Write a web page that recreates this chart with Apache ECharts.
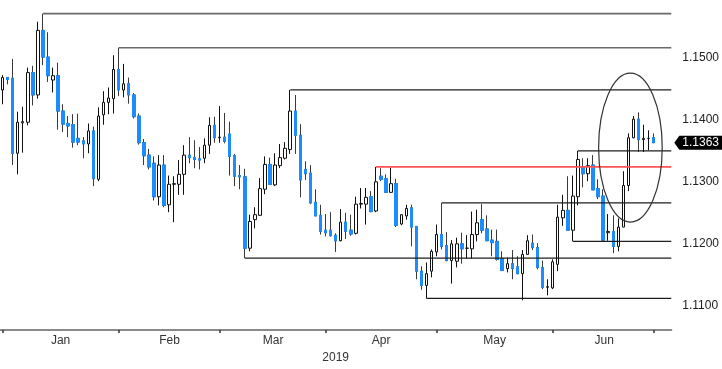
<!DOCTYPE html>
<html>
<head>
<meta charset="utf-8">
<script src="https://cdn.jsdelivr.net/npm/echarts@6/dist/echarts.min.js"></script>
<style>
html,body{margin:0;padding:0;background:#fff;}
#chart{width:722px;height:369px;}
</style>
</head>
<body>
<div id="chart"></div>
<script>
// Trading days (categories), incl. 3 empty days at the right end
const dates = [
'2018-12-31',
'2019-01-01','2019-01-02','2019-01-03','2019-01-04','2019-01-07','2019-01-08','2019-01-09','2019-01-10','2019-01-11','2019-01-14','2019-01-15','2019-01-16','2019-01-17','2019-01-18','2019-01-21','2019-01-22','2019-01-23','2019-01-24','2019-01-25','2019-01-28','2019-01-29','2019-01-30','2019-01-31',
'2019-02-01','2019-02-04','2019-02-05','2019-02-06','2019-02-07','2019-02-08','2019-02-11','2019-02-12','2019-02-13','2019-02-14','2019-02-15','2019-02-18','2019-02-19','2019-02-20','2019-02-21','2019-02-22','2019-02-25','2019-02-26','2019-02-27','2019-02-28',
'2019-03-01','2019-03-04','2019-03-05','2019-03-06','2019-03-07','2019-03-08','2019-03-11','2019-03-12','2019-03-13','2019-03-14','2019-03-15','2019-03-18','2019-03-19','2019-03-20','2019-03-21','2019-03-22','2019-03-25','2019-03-26','2019-03-27','2019-03-28','2019-03-29',
'2019-04-01','2019-04-02','2019-04-03','2019-04-04','2019-04-05','2019-04-08','2019-04-09','2019-04-10','2019-04-11','2019-04-12','2019-04-15','2019-04-16','2019-04-17','2019-04-18','2019-04-19','2019-04-22','2019-04-23','2019-04-24','2019-04-25','2019-04-26','2019-04-29','2019-04-30',
'2019-05-01','2019-05-02','2019-05-03','2019-05-06','2019-05-07','2019-05-08','2019-05-09','2019-05-10','2019-05-13','2019-05-14','2019-05-15','2019-05-16','2019-05-17','2019-05-20','2019-05-21','2019-05-22','2019-05-23','2019-05-24','2019-05-27','2019-05-28','2019-05-29','2019-05-30','2019-05-31',
'2019-06-03','2019-06-04','2019-06-05','2019-06-06','2019-06-07','2019-06-10','2019-06-11','2019-06-12','2019-06-13','2019-06-14','2019-06-17','2019-06-18','2019-06-19','2019-06-20','2019-06-21','2019-06-24','2019-06-25','2019-06-26','2019-06-27','2019-06-28',
'2019-07-01','2019-07-02','2019-07-03'
];

const opens = [
1.1448,
1.1468,1.1467,1.1346,1.1395,1.1396,1.1476,1.1440,1.1544,1.1501,1.1464,1.1471,1.1414,1.1394,1.1392,1.1370,1.1366,1.1361,1.1382,1.1304,1.1408,1.1428,1.1434,1.1481,
1.1448,1.1458,1.1440,1.1406,1.1363,1.1343,1.1330,1.1276,1.1327,1.1263,1.1296,1.1296,1.1312,1.1343,1.1339,1.1337,1.1338,1.1359,1.1391,1.1371,
1.1372,1.1377,1.1342,1.1310,1.1308,1.1193,1.1239,1.1246,1.1288,1.1328,1.1295,1.1326,1.1338,1.1352,1.1414,1.1375,1.1320,1.1314,1.1267,1.1246,1.1222,
1.1222,1.1214,1.1205,1.1235,1.1222,1.1217,1.1264,1.1264,1.1276,1.1253,1.1309,1.1305,1.1283,1.1297,1.1232,1.1245,1.1258,1.1228,1.1156,1.1133,1.1156,1.1187,
1.1215,1.1197,1.1173,1.1172,1.1200,1.1193,1.1192,1.1215,1.1239,1.1224,1.1206,1.1204,1.1176,1.1160,1.1168,1.1163,1.1152,1.1183,1.1201,1.1194,1.1162,1.1130,1.1129,
1.1167,1.1242,1.1254,1.1222,1.1276,1.1323,1.1313,1.1327,1.1289,1.1277,1.1218,1.1220,1.1196,1.1227,1.1294,1.1371,1.1401,1.1368,1.1370,1.1371
];
const highs = [
1.1472,
1.1469,1.1498,1.1413,1.1421,1.1484,1.1487,1.1558,1.1571,1.1541,1.1484,1.1492,1.1425,1.1406,1.1409,1.1410,1.1372,1.1394,1.1389,1.1420,1.1446,1.1452,1.1504,1.1516,
1.1490,1.1468,1.1443,1.1410,1.1369,1.1353,1.1341,1.1343,1.1343,1.1310,1.1309,1.1335,1.1359,1.1372,1.1367,1.1356,1.1370,1.1404,1.1405,1.1422,
1.1411,1.1397,1.1345,1.1327,1.1321,1.1247,1.1259,1.1306,1.1341,1.1339,1.1346,1.1361,1.1364,1.1448,1.1440,1.1393,1.1333,1.1327,1.1288,1.1263,1.1248,
1.1251,1.1217,1.1256,1.1250,1.1247,1.1276,1.1290,1.1290,1.1285,1.1324,1.1322,1.1312,1.1323,1.1305,1.1248,1.1263,1.1263,1.1229,1.1164,1.1170,1.1191,1.1231,
1.1266,1.1219,1.1206,1.1210,1.1218,1.1214,1.1252,1.1255,1.1264,1.1246,1.1223,1.1223,1.1188,1.1178,1.1190,1.1180,1.1190,1.1214,1.1215,1.1201,1.1173,1.1143,1.1175,
1.1263,1.1279,1.1309,1.1310,1.1350,1.1338,1.1338,1.1343,1.1304,1.1288,1.1248,1.1246,1.1241,1.1317,1.1378,1.1406,1.1412,1.1392,1.1383,1.1378
];
const lows = [
1.1425,
1.1457,1.1327,1.1312,1.1347,1.1391,1.1423,1.1434,1.1488,1.1461,1.1444,1.1384,1.1380,1.1372,1.1355,1.1359,1.1338,1.1346,1.1293,1.1301,1.1392,1.1409,1.1410,1.1438,
1.1436,1.1426,1.1402,1.1360,1.1327,1.1320,1.1270,1.1262,1.1259,1.1251,1.1235,1.1279,1.1279,1.1330,1.1322,1.1320,1.1330,1.1345,1.1363,1.1363,
1.1362,1.1310,1.1293,1.1288,1.1177,1.1188,1.1225,1.1245,1.1280,1.1295,1.1293,1.1322,1.1336,1.1345,1.1345,1.1275,1.1303,1.1264,1.1245,1.1215,1.1212,
1.1212,1.1187,1.1204,1.1208,1.1213,1.1215,1.1257,1.1231,1.1251,1.1251,1.1301,1.1283,1.1282,1.1227,1.1230,1.1239,1.1196,1.1143,1.1126,1.1112,1.1146,1.1180,
1.1191,1.1172,1.1136,1.1162,1.1168,1.1176,1.1176,1.1204,1.1217,1.1205,1.1180,1.1173,1.1156,1.1154,1.1143,1.1151,1.1109,1.1182,1.1190,1.1159,1.1127,1.1117,1.1127,
1.1156,1.1229,1.1222,1.1204,1.1262,1.1291,1.1301,1.1287,1.1272,1.1204,1.1205,1.1185,1.1188,1.1227,1.1285,1.1370,1.1348,1.1348,1.1351,1.1363
];
const closes = [
1.1468,
1.1465,1.1346,1.1396,1.1397,1.1476,1.1440,1.1544,1.1501,1.1471,1.1471,1.1414,1.1393,1.1390,1.1364,1.1364,1.1361,1.1382,1.1305,1.1406,1.1428,1.1435,1.1481,1.1448,
1.1458,1.1440,1.1405,1.1363,1.1342,1.1324,1.1276,1.1327,1.1262,1.1296,1.1297,1.1312,1.1343,1.1339,1.1336,1.1335,1.1359,1.1391,1.1371,1.1372,
1.1365,1.1341,1.1309,1.1308,1.1193,1.1236,1.1247,1.1289,1.1328,1.1296,1.1327,1.1339,1.1354,1.1414,1.1375,1.1303,1.1313,1.1266,1.1245,1.1220,1.1218,
1.1213,1.1205,1.1235,1.1220,1.1216,1.1264,1.1265,1.1275,1.1252,1.1300,1.1304,1.1283,1.1297,1.1230,1.1247,1.1257,1.1227,1.1156,1.1133,1.1152,1.1188,1.1215,
1.1196,1.1173,1.1200,1.1200,1.1192,1.1193,1.1215,1.1234,1.1222,1.1205,1.1202,1.1175,1.1157,1.1168,1.1160,1.1152,1.1183,1.1205,1.1194,1.1162,1.1130,1.1131,1.1171,
1.1243,1.1254,1.1222,1.1277,1.1336,1.1313,1.1326,1.1287,1.1276,1.1206,1.1220,1.1196,1.1227,1.1294,1.1371,1.1401,1.1368,1.1370,1.1370,1.1363
];

// Horizontal support / resistance levels: start day index, price
const levelStart = [8, 23, 57, 74, 87, 114, 113, 48, 84];
const levelPrice = [1.1571, 1.1516, 1.1448, 1.1324, 1.1266, 1.1350, 1.1204, 1.1177, 1.1112];
const levelKind  = ['gray','gray','dark','red','dark','dark','dark','dark','dark'];

// Axis ticks / labels
const monthTickIdx = [0, 23, 43, 64, 86, 109, 129];
const monthLabelPos = [11.5, 33.1, 53.6, 75.0, 97.5, 119.2];
const monthNames = ['Jan','Feb','Mar','Apr','May','Jun'];
const priceTicks = [1.11, 1.12, 1.13, 1.14, 1.15];
const lastPrice = 1.1363;

const BLUE = '#1c8cff';
const N = dates.length;
const FONT = 'Liberation Sans';

const candleData = opens.map((o, i) => [o, closes[i], lows[i], highs[i]]);
const bodyData = opens.map((o, i) => closes[i] < o
  ? [o, closes[i], closes[i], o]
  : { value: [o, closes[i], o, o], itemStyle: { opacity: 0 } });

const levelColors = { gray: '#6a6a6a', dark: '#1e1e1e', red: '#ff5252' };
const levelWidths = { gray: 1.6, dark: 1.2, red: 1.6 };
const levelSeries = levelStart.map((s, k) => ({
  type: 'line', xAxisIndex: 1, yAxisIndex: 0, silent: true,
  symbol: 'none', z: 5,
  lineStyle: { color: levelColors[levelKind[k]], width: levelWidths[levelKind[k]] },
  data: [[s, levelPrice[k]], [N - 0.5, levelPrice[k]]]
}));

const chart = echarts.init(document.getElementById('chart'), null, { renderer: 'canvas' });
chart.setOption({
  animation: false,
  backgroundColor: '#fff',
  grid: { left: -2.2, right: 50, top: 0, bottom: 32, containLabel: false },
  xAxis: [
    { type: 'category', data: dates, boundaryGap: true, show: false },
    {
      type: 'value', min: -0.5, max: N - 0.5, position: 'bottom',
      axisLine: { show: true, onZero: false, lineStyle: { color: '#8a8a8a', width: 2 } },
      axisTick: { show: true, customValues: monthTickIdx, length: 3, lineStyle: { color: '#333', width: 1.5 } },
      axisLabel: {
        show: true, customValues: monthLabelPos, margin: 5,
        color: '#333', fontSize: 12, fontFamily: FONT,
        formatter: v => {
          const k = monthLabelPos.findIndex(p => Math.abs(p - v) < 1e-6);
          return k >= 0 ? monthNames[k] : '';
        }
      },
      splitLine: { show: false },
      name: '2019', nameLocation: 'middle', nameGap: 18,
      nameTextStyle: { color: '#333', fontSize: 12, fontFamily: FONT }
    }
  ],
  yAxis: {
    type: 'value', position: 'right', min: 1.1061, max: 1.1593, scale: true,
    axisLine: { show: false }, axisTick: { show: false }, splitLine: { show: false },
    axisLabel: {
      customValues: priceTicks, margin: 11, color: '#222', fontSize: 12, fontFamily: FONT,
      formatter: v => v.toFixed(4)
    }
  },
  series: [
    {
      type: 'candlestick', xAxisIndex: 0, yAxisIndex: 0, barWidth: 3,
      data: candleData,
      itemStyle: { color: '#ffffff', color0: BLUE, borderColor: '#111', borderColor0: '#3a3a3a', borderWidth: 1 }
    },
    {
      type: 'candlestick', xAxisIndex: 0, yAxisIndex: 0, barWidth: 3,
      data: bodyData,
      itemStyle: { color: BLUE, color0: BLUE, borderColor: BLUE, borderColor0: BLUE, borderWidth: 1 }
    }
  ].concat(levelSeries)
});

// annotations anchored to data coordinates
const gridRight = chart.convertToPixel({ xAxisIndex: 1 }, N - 0.5);
const tagY = chart.convertToPixel({ yAxisIndex: 0 }, lastPrice);
const ellC = chart.convertToPixel({ xAxisIndex: 1 }, 124.4);
const ellY = chart.convertToPixel({ yAxisIndex: 0 }, 1.1355);
const ellTop = chart.convertToPixel({ yAxisIndex: 0 }, 1.1475);
const ellRight = chart.convertToPixel({ xAxisIndex: 1 }, 130.7);
chart.setOption({
  graphic: [
    {
      type: 'ellipse', silent: true, z: 10,
      shape: { cx: ellC, cy: ellY, rx: ellRight - ellC, ry: ellY - ellTop },
      style: { fill: null, stroke: '#333', lineWidth: 1.2 }
    },
    {
      type: 'polygon', silent: true, z: 10,
      shape: { points: [[gridRight + 3, tagY], [gridRight + 8, tagY - 7], [722, tagY - 7], [722, tagY + 7], [gridRight + 8, tagY + 7]] },
      style: { fill: '#000' }
    },
    {
      type: 'text', silent: true, z: 11,
      x: gridRight + 11, y: tagY,
      style: { text: lastPrice.toFixed(4), fill: '#fff', font: '12px "Liberation Sans"', textVerticalAlign: 'middle', textAlign: 'left' }
    }
  ]
});
</script>
</body>
</html>
